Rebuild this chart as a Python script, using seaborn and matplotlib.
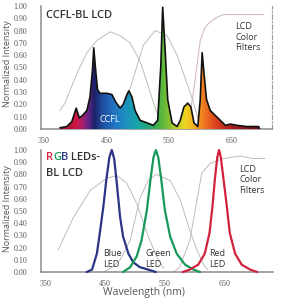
import numpy as np
import matplotlib
matplotlib.use("Agg")
import matplotlib.pyplot as plt
import seaborn as sns
from matplotlib.colors import LinearSegmentedColormap
from matplotlib.patches import Polygon

# ---------------- data ----------------
ccfl_nm = [376, 387, 395, 402, 407, 412, 419, 424, 428, 430, 433, 436, 440, 451, 459, 465,
           472, 477, 483, 486, 491, 496, 504, 515, 525, 532, 537, 540, 544, 548, 555, 563,
           568, 574, 580, 585, 590, 596, 600, 603, 606, 610, 616, 624, 632, 640, 648, 658,
           674, 693, 695]
ccfl_val = [0.01, 0.02, 0.06, 0.17, 0.09, 0.11, 0.15, 0.26, 0.48, 0.66, 0.48, 0.32, 0.29, 0.29,
            0.28, 0.22, 0.17, 0.20, 0.28, 0.31, 0.26, 0.15, 0.07, 0.05, 0.03, 0.07, 0.51, 0.99,
            0.64, 0.24, 0.05, 0.02, 0.07, 0.18, 0.21, 0.18, 0.05, 0.02, 0.24, 0.62, 0.45, 0.24,
            0.15, 0.11, 0.07, 0.03, 0.04, 0.03, 0.02, 0.02, 0.0]

blue_f_top_nm = [376, 384, 403, 419, 435, 456, 472, 488, 504, 515, 525, 531, 536]
blue_f_top = [0.15, 0.21, 0.45, 0.62, 0.72, 0.79, 0.76, 0.70, 0.55, 0.38, 0.22, 0.13, 0.03]
green_f_top_nm = [462, 475, 485, 493, 509, 528, 547, 563, 576, 587, 595, 602]
green_f_top = [0.03, 0.15, 0.28, 0.41, 0.68, 0.80, 0.76, 0.60, 0.41, 0.25, 0.11, 0.02]
red_f_top_nm = [572, 584, 589, 600, 608, 616, 627, 637, 664, 685, 701]
red_f_top = [0.02, 0.15, 0.29, 0.72, 0.83, 0.87, 0.91, 0.93, 0.93, 0.93, 0.93]

blue_led_nm = [419, 428, 436, 441, 447, 452, 457, 461, 465, 469, 475, 480, 489, 497, 508, 522, 535]
blue_led = [0.0, 0.02, 0.15, 0.32, 0.54, 0.76, 0.94, 1.0, 0.93, 0.75, 0.45, 0.29, 0.15, 0.08, 0.04, 0.02, 0.0]
green_led_nm = [480, 492, 503, 511, 520, 526, 531, 535, 539, 544, 550, 559, 570, 584, 598, 609]
green_led = [0.0, 0.04, 0.13, 0.26, 0.51, 0.76, 0.94, 1.0, 0.94, 0.76, 0.51, 0.29, 0.15, 0.06, 0.02, 0.0]
red_led_nm = [580, 592, 606, 617, 625, 630, 634, 638, 641, 644, 648, 654, 659, 668, 679, 693, 705]
red_led = [0.0, 0.02, 0.06, 0.15, 0.32, 0.54, 0.76, 0.94, 1.0, 0.94, 0.78, 0.54, 0.32, 0.15, 0.06, 0.02, 0.0]

blue_f_bot_nm = [371, 397, 425, 453, 470, 486, 503, 520, 536, 548]
blue_f_bot = [0.18, 0.45, 0.67, 0.77, 0.79, 0.73, 0.56, 0.32, 0.13, 0.03]
green_f_bot_nm = [447, 462, 475, 492, 508, 522, 536, 559, 576, 592, 604, 615, 622]
green_f_bot = [0.0, 0.04, 0.10, 0.26, 0.60, 0.75, 0.80, 0.75, 0.59, 0.34, 0.18, 0.06, 0.02]
red_f_bot_nm = [565, 575, 592, 604, 612, 626, 648, 676, 698, 718]
red_f_bot = [0.0, 0.04, 0.26, 0.59, 0.81, 0.89, 0.93, 0.95, 0.93, 0.93]

y_ticks = [0.0, 0.1, 0.2, 0.3, 0.4, 0.5, 0.6, 0.7, 0.8, 0.9, 1.0]
x_ticks = [350, 450, 550, 650]

# ---------------- style ----------------
sns.set_style("white")
plt.rcParams['font.family'] = ['Open Sans', 'DejaVu Sans']
TICKFONT = ['Liberation Sans Narrow', 'Liberation Serif', 'DejaVu Sans']

W, H = 292, 298
fig = plt.figure(figsize=(W / 100, H / 100), dpi=100)


def fx(px):
    return px / W


def fy(py):
    return 1 - py / H


ax1 = fig.add_axes([fx(41), fy(129), (272 - 41) / W, 123 / H])
ax2 = fig.add_axes([fx(41), fy(272), (273 - 41) / W, 122 / H])

ax1.set_xlim(345.8, 714.5)
ax2.set_xlim(342.3, 731.5)
for ax in (ax1, ax2):
    ax.set_ylim(0, 1.0)

FILTER = '#bdbdbd'

# ---------------- top panel ----------------
for xs, ys, c in [(blue_f_top_nm, blue_f_top, FILTER),
                  (green_f_top_nm, green_f_top, FILTER),
                  (red_f_top_nm, red_f_top, '#cfb3b3')]:
    sns.lineplot(x=xs, y=ys, ax=ax1, color=c, lw=0.7, estimator=None, zorder=2)

stops = [(376, '#8a1232'), (400, '#d0143e'), (410, '#b0206a'), (420, '#6a2488'),
         (430, '#1c2066'), (442, '#1f4a9c'), (460, '#2270c2'), (480, '#1c8fc0'),
         (500, '#18a6a6'), (520, '#25a86a'), (540, '#5cb83a'), (558, '#aacb2c'),
         (576, '#f0d41e'), (594, '#f5a322'), (610, '#ec6c1f'), (628, '#d63c20'),
         (650, '#aa1e1e'), (695, '#701015')]
g0, g1 = stops[0][0], stops[-1][0]
cmap = LinearSegmentedColormap.from_list(
    'spec', [((s - g0) / (g1 - g0), c) for s, c in stops])
grad = np.linspace(0, 1, 400).reshape(1, -1)
poly_pts = [(ccfl_nm[0], 0)] + list(zip(ccfl_nm, ccfl_val)) + [(ccfl_nm[-1], 0)]
poly = Polygon(poly_pts, closed=True, facecolor='none', edgecolor='none')
ax1.add_patch(poly)
im = ax1.imshow(grad, extent=[g0, g1, 0, 1], aspect='auto', cmap=cmap, zorder=3,
                interpolation='bilinear')
im.set_clip_path(poly)
sns.lineplot(x=ccfl_nm, y=ccfl_val, ax=ax1, color='#111111', lw=1.2, estimator=None, zorder=4)

# ---------------- bottom panel ----------------
for xs, ys, c in [(blue_f_bot_nm, blue_f_bot, FILTER),
                  (green_f_bot_nm, green_f_bot, FILTER),
                  (red_f_bot_nm, red_f_bot, '#c8b8b8')]:
    sns.lineplot(x=xs, y=ys, ax=ax2, color=c, lw=0.7, estimator=None, zorder=2)
for xs, ys, c in [(blue_led_nm, blue_led, '#2a3585'),
                  (green_led_nm, green_led, '#17995a'),
                  (red_led_nm, red_led, '#d2213c')]:
    sns.lineplot(x=xs, y=ys, ax=ax2, color=c, lw=1.6, estimator=None, zorder=4)
for ln in ax2.lines:
    ln.set_clip_on(False)

# ---------------- axes styling ----------------
for ax in (ax1, ax2):
    ax.set_yticks(y_ticks)
    ax.set_yticklabels([f"{v:.2f}" for v in y_ticks], family=TICKFONT)
    ax.set_xticks(x_ticks)
    ax.set_xticklabels([str(v) for v in x_ticks], family=TICKFONT)
    ax.tick_params(axis='y', length=0, pad=10, labelsize=5.8, labelcolor='#5a5a5a')
    ax.tick_params(axis='x', length=0, pad=5.5, labelsize=5.8, labelcolor='#5a5a5a')
    ax.set_xlabel('')
    ax.set_ylabel('')
    for s in ('left', 'bottom'):
        ax.spines[s].set_color('#8c8c8c')
        ax.spines[s].set_linewidth(1.1)
    ax.spines['top'].set_visible(False)
    ax.patch.set_alpha(0)
ax2.spines['right'].set_visible(False)
ax1.spines['right'].set_linestyle((0, (4, 2, 1, 2)))
ax1.spines['right'].set_color('#9a9aaa')
ax1.spines['right'].set_linewidth(0.8)

# ---------------- texts ----------------
GR = '#333333'
fig.text(fx(8), fy(64), 'Normalized Intensity', rotation=90, ha='center', va='center',
         fontsize=6.5, color='#555555')
fig.text(fx(8), fy(209), 'Normalized Intensity', rotation=90, ha='center', va='center',
         fontsize=6.5, color='#555555')
fig.text(fx(144), fy(293), 'Wavelength (nm)', ha='center', va='center', fontsize=7.5,
         color='#555555')

fig.text(fx(46), fy(16), 'CCFL-BL LCD', ha='left', va='center', fontsize=8,
         weight='semibold', color=GR)
fig.text(fx(235), fy(37), 'LCD\nColor\nFilters', ha='left', va='center', fontsize=6.5,
         color=GR, linespacing=1.25)
fig.text(fx(99), fy(120), 'CCFL', ha='left', va='center', fontsize=6.5, color='white',
         zorder=10)

t = fig.text(fx(46), fy(163), 'R', ha='left', va='bottom', fontsize=8, weight='semibold',
             color='#d2213c')
for s, c in [('G', '#17995a'), ('B', '#2a3585'), (' LEDs-', GR)]:
    t = ax2.annotate(s, xy=(1, 0), xycoords=t, ha='left', va='bottom', fontsize=8,
                     weight='semibold', color=c, annotation_clip=False)
fig.text(fx(46), fy(173), 'BL LCD', ha='left', va='center', fontsize=8,
         weight='semibold', color=GR)

fig.text(fx(239), fy(180), 'LCD\nColor\nFilters', ha='left', va='center', fontsize=6.5,
         color=GR, linespacing=1.25)
fig.text(fx(103), fy(259), 'Blue\nLED', ha='left', va='center', fontsize=6.5,
         color=GR, linespacing=1.2)
fig.text(fx(145), fy(259), 'Green\nLED', ha='left', va='center', fontsize=6.5,
         color=GR, linespacing=1.2)
fig.text(fx(209), fy(259), 'Red\nLED', ha='left', va='center', fontsize=6.5,
         color=GR, linespacing=1.2)

fig.savefig('out.png', dpi=100)
